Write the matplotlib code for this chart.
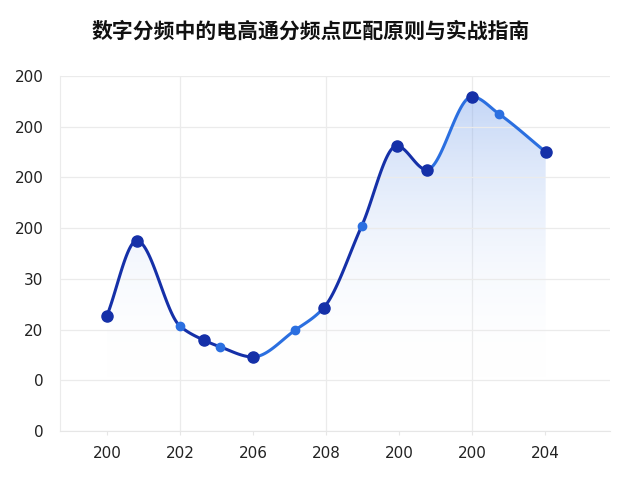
import numpy as np
import matplotlib.pyplot as plt
from matplotlib.collections import LineCollection
from matplotlib.colors import LinearSegmentedColormap

plt.rcParams['font.family'] = ['Noto Sans CJK SC', 'DejaVu Sans']

title = "数字分频中的电高通分频点匹配原则与实战指南"
x_labels = ["200", "202", "206", "208", "200", "200", "204"]
y_labels = ["0", "0", "20", "30", "200", "200", "200", "200"]

# points (index units)
xs = [0.0, 0.41, 1.0, 1.33, 1.55, 2.0, 2.58, 2.97, 3.49, 3.97, 4.38, 5.0, 5.37, 6.01]
ys = [2.27, 3.75, 2.07, 1.79, 1.66, 1.46, 1.99, 2.43, 4.04, 5.62, 5.15, 6.59, 6.25, 5.50]
big = [1, 1, 0, 1, 0, 1, 0, 1, 0, 1, 1, 1, 0, 1]
seg_light = [0, 0, 0, 0, 0, 1, 1, 0, 0, 0, 1, 1, 1]

dark = '#1530a8'
light = '#2b6fe0'


def pchip(px, py, n=30):
    x = np.array(px)
    y = np.array(py)
    h = np.diff(x)
    d = np.diff(y) / h
    m = np.zeros_like(y)
    for k in range(1, len(x) - 1):
        if d[k - 1] * d[k] > 0:
            w1 = 2 * h[k] + h[k - 1]
            w2 = h[k] + 2 * h[k - 1]
            m[k] = (w1 + w2) / (w1 / d[k - 1] + w2 / d[k])
    m[0] = d[0]
    m[-1] = d[-1]
    segs = []
    for k in range(len(x) - 1):
        t = np.linspace(0, 1, n)
        h00 = 2 * t ** 3 - 3 * t ** 2 + 1
        h10 = t ** 3 - 2 * t ** 2 + t
        h01 = -2 * t ** 3 + 3 * t ** 2
        h11 = t ** 3 - t ** 2
        yy = h00 * y[k] + h10 * h[k] * m[k] + h01 * y[k + 1] + h11 * h[k] * m[k + 1]
        xx = x[k] + t * h[k]
        segs.append(np.column_stack([xx, yy]))
    curve = np.vstack([segs[0]] + [s[1:] for s in segs[1:]])
    return curve, segs


fig = plt.figure(figsize=(6.4, 4.8), dpi=100)
ax = fig.add_axes([0.094, 0.102, 0.859, 0.740])

curve, segs = pchip(xs, ys)

# gradient fill under the curve
cmap = LinearSegmentedColormap.from_list('f', [(1, 1, 1, 0), (0.45, 0.62, 0.92, 0.45)])
grad = np.linspace(0, 1, 256).reshape(-1, 1)
im = ax.imshow(grad, extent=[xs[0], xs[-1], 1.0, 6.8], origin='lower', aspect='auto',
               cmap=cmap, zorder=1)
poly = np.vstack([curve, [[xs[-1], 1.0], [xs[0], 1.0]]])
patch = plt.Polygon(poly, closed=True, facecolor='none', edgecolor='none')
ax.add_patch(patch)
im.set_clip_path(patch)

lc = LineCollection(segs, colors=[light if s else dark for s in seg_light], linewidths=2.2,
                    zorder=3, capstyle='round', joinstyle='round')
ax.add_collection(lc)

for x, y, b in zip(xs, ys, big):
    if b:
        ax.plot(x, y, 'o', color=dark, ms=8, zorder=4)
    else:
        ax.plot(x, y, 'o', color=light, ms=6, zorder=4)

ax.set_xlim(-0.64, 6.89)
ax.set_ylim(0, 7)
ax.set_xticks(range(7))
ax.set_xticklabels(x_labels, family='DejaVu Sans')
ax.set_yticks(range(8))
ax.set_yticklabels(y_labels, family='DejaVu Sans')
ax.tick_params(axis='y', length=0, pad=12, labelsize=11, labelcolor='#222222')
ax.tick_params(axis='x', length=3, color='#e6e6e6', pad=8, labelsize=11, labelcolor='#222222')

ax.grid(axis='y', color='#ebebeb', lw=0.9, zorder=0)
for gx in [1, 3, 5]:
    ax.axvline(gx, color='#ebebeb', lw=0.9, zorder=0)
for s in ['top', 'right']:
    ax.spines[s].set_visible(False)
ax.spines['left'].set_color('#ebebeb')
ax.spines['bottom'].set_color('#e6e6e6')

fig.text(0.485, 0.935, title, ha='center', va='center', fontsize=15, fontweight='bold',
         color='#111111')

fig.savefig('out.png', dpi=100)
